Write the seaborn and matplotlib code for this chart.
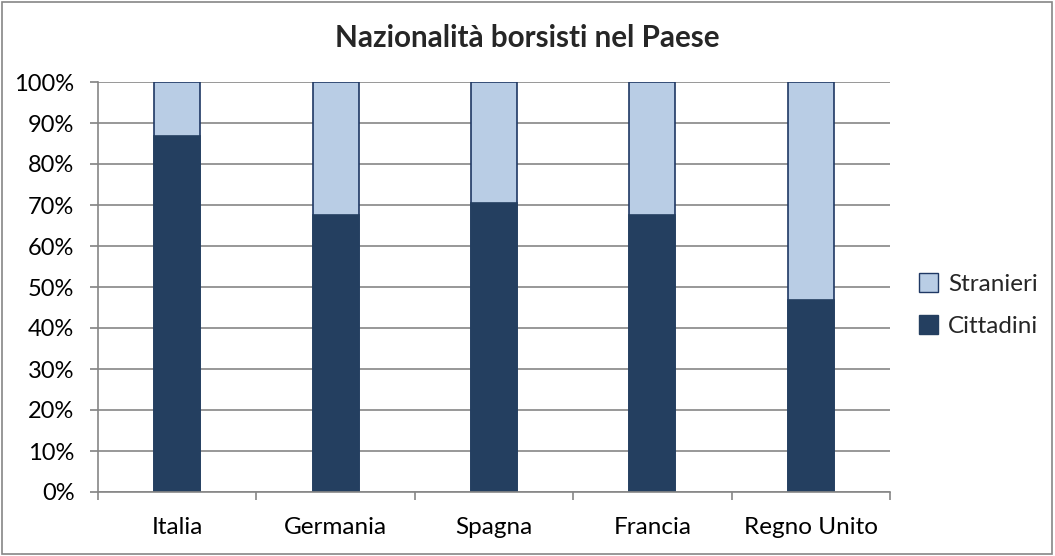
import matplotlib
matplotlib.use("Agg")
import matplotlib.pyplot as plt
import seaborn as sns
import pandas as pd
import numpy as np
from matplotlib.ticker import FuncFormatter, FixedLocator
from matplotlib.patches import Rectangle, Patch

categories = ["Italia", "Germania", "Spagna", "Francia", "Regno Unito"]
cittadini = [86.9, 67.6, 70.5, 67.6, 46.9]
stranieri = [13.1, 32.4, 29.5, 32.4, 53.1]
title = "Nazionalità borsisti nel Paese"

sns.set_theme(style="white")
plt.rcParams['font.family'] = ['Lato', 'DejaVu Sans']

dark = "#243F60"
light = "#B9CDE5"
edge = "#1F3864"
grid = "#868686"

df = pd.DataFrame({"Paese": categories,
                   "Cittadini": cittadini,
                   "Totale": np.array(cittadini) + np.array(stranieri)})

fig = plt.figure(figsize=(10.55, 5.56), dpi=100)
ax = fig.add_axes([98/1055, 1 - 492/556, (890-98)/1055, (492-82)/556])

sns.barplot(data=df, x="Paese", y="Totale", color=light, width=0.29,
            edgecolor=edge, linewidth=1.2, ax=ax, saturation=1)
sns.barplot(data=df, x="Paese", y="Cittadini", color=dark, width=0.29,
            edgecolor=dark, linewidth=1.2, ax=ax, saturation=1)

ax.set_ylim(0, 100)
ax.set_xlim(-0.5, len(categories) - 0.5)
ax.yaxis.set_major_locator(FixedLocator(np.arange(0, 101, 10)))
ax.yaxis.set_major_formatter(FuncFormatter(lambda v, p: f"{int(round(v))}%"))
ax.yaxis.grid(True, color=grid, linewidth=1.2)
ax.set_axisbelow(True)
ax.set_xlabel("")
ax.set_ylabel("")

for s in ["top", "right"]:
    ax.spines[s].set_visible(False)
for s in ["left", "bottom"]:
    ax.spines[s].set_color(grid)
    ax.spines[s].set_linewidth(1.2)

ax.tick_params(axis="y", which="major", left=True, length=6, color=grid,
               labelsize=17, pad=11, labelcolor="black")
ax.tick_params(axis="x", which="major", bottom=False, labelsize=17.5, pad=12,
               labelcolor="black")
ax.set_xticks(np.arange(len(categories)))
ax.set_xticklabels(categories)
ax.set_xticks(np.arange(-0.5, len(categories), 1), minor=True)
ax.tick_params(axis="x", which="minor", bottom=True, length=6, color=grid, width=1.2)

fig.text(527/1055, 1 - 38/556, title, ha="center", va="center",
         fontsize=21.3, fontweight="bold")

handles = [Patch(facecolor=light, edgecolor=edge, label="Stranieri"),
           Patch(facecolor=dark, edgecolor=dark, label="Cittadini")]
fig.legend(handles=handles, loc="center left", bbox_to_anchor=(919/1055, 1 - 305/556),
           frameon=False, fontsize=17.5, handlelength=0.8, handleheight=0.8,
           labelspacing=0.85, handletextpad=0.4, borderaxespad=0, borderpad=0)

fig.add_artist(Rectangle((0.002, 0.003), 0.995, 0.994, transform=fig.transFigure,
                         fill=False, edgecolor=grid, linewidth=1.2))

fig.savefig("out.png", dpi=100)
